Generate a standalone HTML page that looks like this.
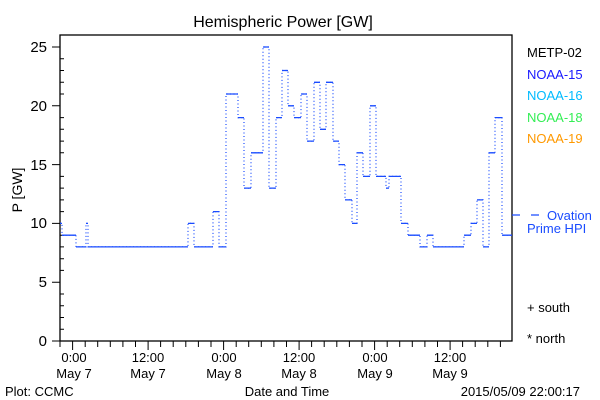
<!DOCTYPE html>
<html><head><meta charset="utf-8"><style>
body{margin:0;background:#fff}
svg{display:block;font-family:"Liberation Sans",sans-serif}
</style></head><body>
<svg width="600" height="400" xmlns="http://www.w3.org/2000/svg">
<rect width="600" height="400" fill="#fff"/>
<text x="283" y="27" font-size="16" text-anchor="middle">Hemispheric Power [GW]</text>
<rect x="60" y="35" width="452" height="306" fill="none" stroke="#000" stroke-width="1.3"/>
<g stroke="#000" stroke-width="1">
<path d="M52 341H60M52 282.2H60M52 223.4H60M52 164.6H60M52 105.8H60M52 47H60"/>
<path d="M60 329.2H64M60 317.5H64M60 305.7H64M60 294H64M60 270.4H64M60 258.7H64M60 246.9H64M60 235.2H64M60 211.6H64M60 199.9H64M60 188.1H64M60 176.4H64M60 152.8H64M60 141.1H64M60 129.3H64M60 117.6H64M60 94H64M60 82.3H64M60 70.5H64M60 58.8H64"/>
<path d="M60 341V347M85.2 341V347M97.7 341V347M110.3 341V347M122.9 341V347M135.5 341V347M160.6 341V347M173.2 341V347M185.8 341V347M198.4 341V347M211 341V347M236.2 341V347M248.7 341V347M261.3 341V347M273.9 341V347M286.5 341V347M311.6 341V347M324.2 341V347M336.8 341V347M349.4 341V347M362 341V347M387.2 341V347M399.7 341V347M412.3 341V347M424.9 341V347M437.5 341V347M462.6 341V347M475.2 341V347M487.8 341V347M500.4 341V347"/>
<path d="M72.6 341V350M148.1 341V350M223.6 341V350M299.1 341V350M374.6 341V350M450.1 341V350"/>
</g>
<g font-size="15" text-anchor="end">
<text x="47" y="52">25</text><text x="47" y="111">20</text><text x="47" y="170">15</text>
<text x="47" y="228">10</text><text x="47" y="287">5</text><text x="47" y="346">0</text>
</g>
<text transform="translate(22,190) rotate(-90)" font-size="14" text-anchor="middle">P [GW]</text>
<g font-size="13" text-anchor="middle">
<text x="74" y="362">0:00</text><text x="74" y="378">May 7</text>
<text x="148" y="362">12:00</text><text x="148" y="378">May 7</text>
<text x="224" y="362">0:00</text><text x="224" y="378">May 8</text>
<text x="299" y="362">12:00</text><text x="299" y="378">May 8</text>
<text x="375" y="362">0:00</text><text x="375" y="378">May 9</text>
<text x="450" y="362">12:00</text><text x="450" y="378">May 9</text>
<text x="287" y="396">Date and Time</text>
</g>
<text x="5" y="396" font-size="13">Plot: CCMC</text>
<text x="580" y="396" font-size="13" text-anchor="end">2015/05/09 22:00:17</text>
<g font-size="13">
<text x="527" y="57" fill="#000">METP-02</text>
<text x="527" y="79" fill="#1a1aff">NOAA-15</text>
<text x="527" y="100" fill="#00bbff">NOAA-16</text>
<text x="527" y="122" fill="#33ee55">NOAA-18</text>
<text x="527" y="143" fill="#ff9900">NOAA-19</text>
<text x="547" y="220" fill="#1a4cff">Ovation</text>
<text x="527" y="233" fill="#1a4cff">Prime HPI</text>
<text x="527" y="312" fill="#000">+ south</text>
<text x="527" y="343" fill="#000">* north</text>
</g>
<path d="M512 215H520M531 215H539" stroke="#1a4cff" stroke-width="1.3"/>
<polyline fill="none" stroke="#1a4cff" stroke-width="1.2" stroke-dasharray="1,2.5" points="60,223.4 62,223.4 62,235.2 76,235.2 76,246.9 86,246.9 86,223.4 88,223.4 88,246.9 188,246.9 188,223.4 194,223.4 194,246.9 213,246.9 213,211.6 219,211.6 219,246.9 226,246.9 226,94 238,94 238,117.6 244,117.6 244,188.1 251,188.1 251,152.8 263,152.8 263,47 269,47 269,188.1 276,188.1 276,117.6 282,117.6 282,70.5 288,70.5 288,105.8 294,105.8 294,117.6 301,117.6 301,94 307,94 307,141.1 314,141.1 314,82.3 320,82.3 320,129.3 326,129.3 326,82.3 333,82.3 333,141.1 339,141.1 339,164.6 345,164.6 345,199.9 352,199.9 352,223.4 357,223.4 357,152.8 363,152.8 363,176.4 370,176.4 370,105.8 376,105.8 376,176.4 386,176.4 386,188.1 389,188.1 389,176.4 401,176.4 401,223.4 408,223.4 408,235.2 420,235.2 420,246.9 427,246.9 427,235.2 433,235.2 433,246.9 464,246.9 464,235.2 471,235.2 471,223.4 477,223.4 477,199.9 483,199.9 483,246.9 489,246.9 489,152.8 495,152.8 495,117.6 502,117.6 502,235.2 512,235.2"/>
<path fill="none" stroke="#1a4cff" stroke-width="1.3" d="M60 223.4H62M62 235.2H76M76 246.9H86M86 223.4H88M88 246.9H188M188 223.4H194M194 246.9H213M213 211.6H219M219 246.9H226M226 94H238M238 117.6H244M244 188.1H251M251 152.8H263M263 47H269M269 188.1H276M276 117.6H282M282 70.5H288M288 105.8H294M294 117.6H301M301 94H307M307 141.1H314M314 82.3H320M320 129.3H326M326 82.3H333M333 141.1H339M339 164.6H345M345 199.9H352M352 223.4H357M357 152.8H363M363 176.4H370M370 105.8H376M376 176.4H386M386 188.1H389M389 176.4H401M401 223.4H408M408 235.2H420M420 246.9H427M427 235.2H433M433 246.9H464M464 235.2H471M471 223.4H477M477 199.9H483M483 246.9H489M489 152.8H495M495 117.6H502M502 235.2H512"/>
</svg>
</body></html>
